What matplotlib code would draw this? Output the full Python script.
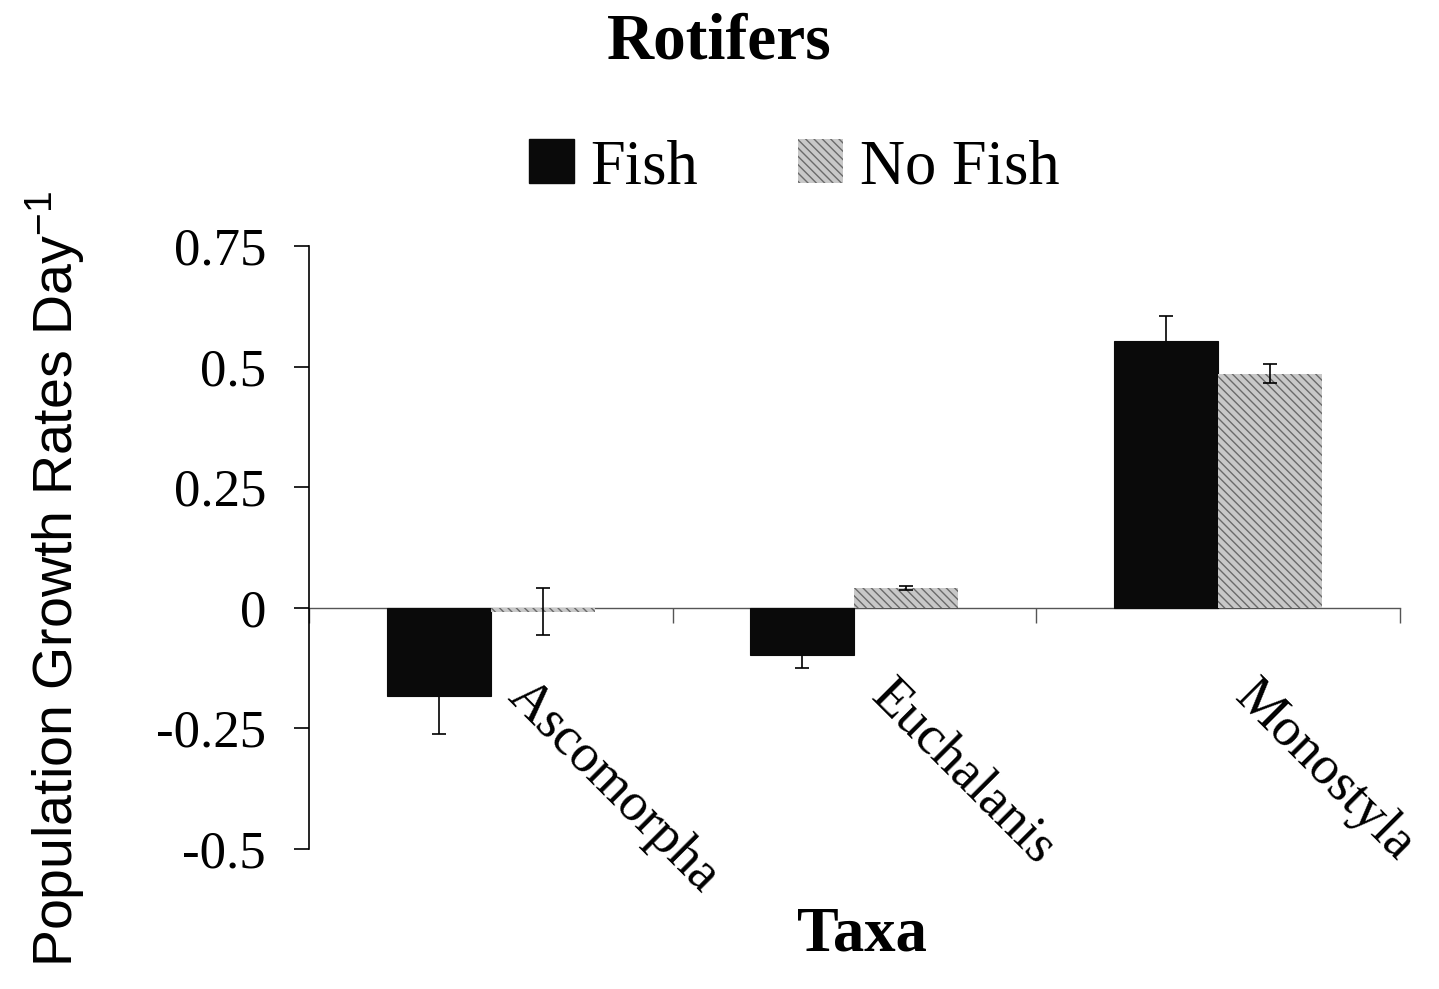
import numpy as np
import matplotlib
matplotlib.use("Agg")
import matplotlib.pyplot as plt
import matplotlib.transforms as mtransforms
from matplotlib.patches import Patch

# --------------------------------------------------
# Growth rates per taxon (mean and error)
# --------------------------------------------------
taxa = ["Ascomorpha", "Euchalanis", "Monostyla"]
fish = [-0.182, -0.097, 0.553]
fish_err = [0.079, 0.027, 0.052]
no_fish = [-0.008, 0.041, 0.485]
no_fish_err = [0.048, 0.004, 0.020]
y_ticks = [-0.5, -0.25, 0, 0.25, 0.5, 0.75]
y_tick_labels = ["-0.5", "-0.25", "0", "0.25", "0.5", "0.75"]

serif = "Liberation Serif"
sans = "Liberation Sans"
plt.rcParams["hatch.color"] = "#6a6a6a"
plt.rcParams["hatch.linewidth"] = 1.0
plt.rcParams["mathtext.fontset"] = "custom"
plt.rcParams["mathtext.rm"] = sans
plt.rcParams["mathtext.it"] = sans

fig = plt.figure(figsize=(14.39, 9.89), dpi=100)
ax = fig.add_axes([0.2147, 0.1416, 0.7582, 0.6097])

x = np.arange(len(taxa))
w = 0.286

ax.bar(x - w / 2, fish, w, color="#0a0a0a", edgecolor="#0a0a0a", linewidth=0.8, zorder=2)
ax.bar(x + w / 2, no_fish, w, color="#c8c8c8", hatch="\\\\\\\\", linewidth=0, zorder=2)
ax.errorbar(x - w / 2, fish, yerr=fish_err, fmt="none", ecolor="black",
            elinewidth=1.2, capsize=5, capthick=1.2, zorder=1)
ax.errorbar(x + w / 2, no_fish, yerr=no_fish_err, fmt="none", ecolor="black",
            elinewidth=1.2, capsize=5, capthick=1.2, zorder=3)

ax.set_xlim(-0.5, len(taxa) - 0.5)
ax.set_ylim(-0.5, 0.75)

# axes: y spine on the left, x axis line running through zero
for side in ["top", "right"]:
    ax.spines[side].set_visible(False)
ax.spines["left"].set_linewidth(1.2)
ax.spines["bottom"].set_position(("data", 0))
ax.spines["bottom"].set_linewidth(1.0)
ax.spines["bottom"].set_color("#555555")
ax.spines["bottom"].set_zorder(0)

ax.set_yticks(y_ticks, y_tick_labels, fontfamily=serif, fontsize=38)
ax.tick_params(axis="y", direction="out", length=11, width=1.2, pad=20)

ax.set_xticks(x, taxa, fontfamily=serif, fontsize=39, rotation=-45,
              ha="left", va="top", rotation_mode="anchor")
ax.set_xticks(np.arange(len(taxa) + 1) - 0.5, minor=True)
ax.tick_params(axis="x", which="major", length=0, pad=46)
ax.tick_params(axis="x", which="minor", direction="out", length=11, width=1.0, color="#555555")
shift = mtransforms.ScaledTranslation(0.42, 0, fig.dpi_scale_trans)
for lab in ax.get_xticklabels():
    lab.set_transform(lab.get_transform() + shift)

# titles and labels
fig.text(0.500, 0.957, "Rotifers", ha="center", va="center",
         fontfamily=serif, fontweight="bold", fontsize=47)
fig.text(0.599, 0.054, "Taxa", ha="center", va="center",
         fontfamily=serif, fontweight="bold", fontsize=45)
fig.text(0.038, 0.415, "Population Growth Rates Day$^{-1}$", ha="center", va="center",
         rotation=90, fontfamily=sans, fontsize=40)

handles = [Patch(facecolor="#0a0a0a", edgecolor="#0a0a0a"),
           Patch(facecolor="#c8c8c8", hatch="\\\\\\\\", linewidth=0)]
fig.legend(handles, ["Fish", "No Fish"], loc="center", bbox_to_anchor=(0.552, 0.830),
           ncol=2, frameon=False, prop={"family": serif, "size": 45},
           handlelength=0.72, handleheight=0.7, handletextpad=0.26, columnspacing=1.6,
           borderpad=0)

fig.savefig("out.png", dpi=100)
